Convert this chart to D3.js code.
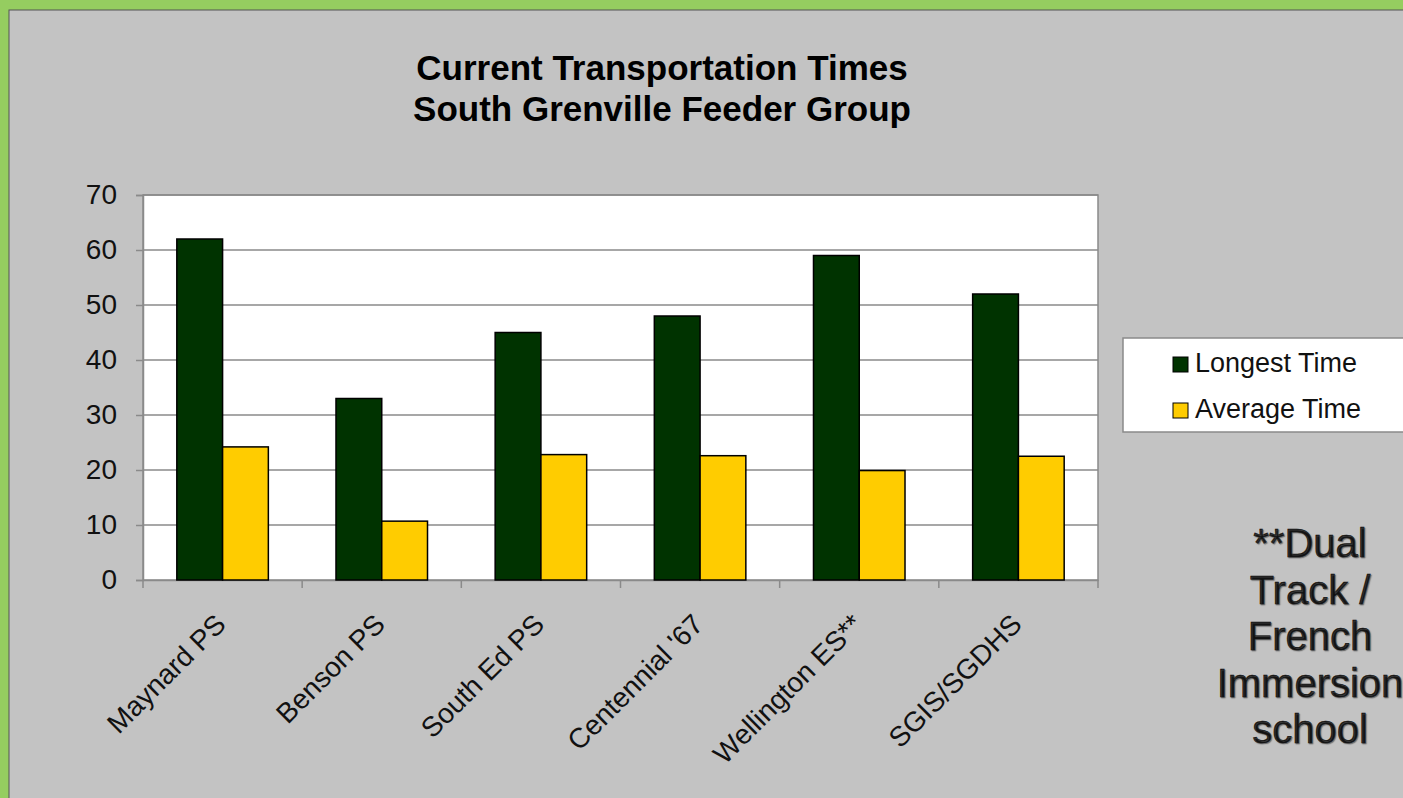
<!DOCTYPE html>
<html><head><meta charset="utf-8">
<script src="https://cdn.jsdelivr.net/npm/d3@7"></script>
<style>html,body{margin:0;padding:0;overflow:hidden;background:#c3c3c3}</style>
</head><body>
<script>
const categories = ["Maynard PS","Benson PS","South Ed PS","Centennial '67","Wellington ES**","SGIS/SGDHS"];
const seriesNames = ["Longest Time","Average Time"];
const longestTime = [62, 33, 45, 48, 59, 52];
const averageTime = [24.2, 10.7, 22.8, 22.6, 19.9, 22.5];
const yTicks = [0,10,20,30,40,50,60,70];
const titleLines = ["Current Transportation Times","South Grenville Feeder Group"];
const noteLines = ["**Dual","Track /","French","Immersion","school"];
const colors = ["#003300","#ffcc00"];

const W = 1403, H = 798;
const FONT = "'Liberation Sans', Arial, sans-serif";
const svg = d3.select("body").append("svg").attr("width",W).attr("height",H)
  .style("font-family",FONT);

// background + green frame
svg.append("rect").attr("width",W).attr("height",H).attr("fill","#95cd60");
svg.append("rect").attr("x",9).attr("y",10).attr("width",W).attr("height",H)
  .attr("fill","#c3c3c3").attr("stroke","#555").attr("stroke-width",1);

// title
svg.append("g").selectAll("text").data(titleLines).join("text")
  .attr("x",662).attr("y",(d,i)=>80+i*41).attr("text-anchor","middle")
  .attr("font-weight","bold").attr("font-size",35).attr("fill","#000").text(d=>d);

const plot = {l:143, r:1098, t:195, b:580};
const x = d3.scaleBand().domain(categories).range([plot.l, plot.r]);
const x1 = d3.scaleBand().domain(seriesNames).range([x.bandwidth()*0.2125, x.bandwidth()*0.7875]);
const y = d3.scaleLinear().domain([0,70]).range([plot.b, plot.t]);

// plot area
svg.append("rect").attr("x",plot.l).attr("y",plot.t).attr("width",plot.r-plot.l).attr("height",plot.b-plot.t)
  .attr("fill","#fff").attr("stroke","#8a8a8a").attr("stroke-width",1.5);

// gridlines
svg.append("g").selectAll("line").data(yTicks.filter(d=>d>0)).join("line")
  .attr("x1",plot.l).attr("x2",plot.r).attr("y1",d=>y(d)).attr("y2",d=>y(d))
  .attr("stroke","#8a8a8a").attr("stroke-width",1.5);

// y axis
const yAxis = svg.append("g").attr("transform",`translate(${plot.l},0)`)
  .call(d3.axisLeft(y).tickValues(yTicks).tickSize(7).tickPadding(19));
yAxis.select(".domain").attr("stroke","#8a8a8a").attr("stroke-width",1.5);
yAxis.selectAll(".tick line").attr("stroke","#8a8a8a").attr("stroke-width",1.5);
yAxis.selectAll("text").attr("font-size",28).attr("fill","#111").attr("font-family",FONT);

// x axis
const xAxis = svg.append("g").attr("transform",`translate(0,${plot.b})`)
  .call(d3.axisBottom(x).tickSize(0).tickFormat(""));
xAxis.select(".domain").attr("stroke","#8a8a8a").attr("stroke-width",1.5);
const bounds = d3.range(categories.length+1).map(i=>plot.l + i*x.step());
svg.append("g").selectAll("line").data(bounds).join("line")
  .attr("x1",d=>d).attr("x2",d=>d).attr("y1",plot.b).attr("y2",plot.b+8)
  .attr("stroke","#8a8a8a").attr("stroke-width",1.5);
svg.append("g").selectAll("text").data(categories).join("text")
  .attr("transform",d=>`translate(${x(d)+x.bandwidth()/2+5},${plot.b+46}) rotate(-45)`)
  .attr("text-anchor","end").attr("font-size",28).attr("fill","#111").text(d=>d);

// bars
const data = categories.map((c,i)=>({c, vals:[longestTime[i], averageTime[i]]}));
const g = svg.append("g").selectAll("g").data(data).join("g").attr("transform",d=>`translate(${x(d.c)},0)`);
g.selectAll("rect").data(d=>d.vals.map((v,j)=>({s:seriesNames[j], v, j}))).join("rect")
  .attr("x",d=>x1(d.s)).attr("width",x1.bandwidth())
  .attr("y",d=>y(d.v)).attr("height",d=>y(0)-y(d.v))
  .attr("fill",d=>colors[d.j]).attr("stroke","#000").attr("stroke-width",1.5);

// legend
svg.append("rect").attr("x",1123).attr("y",338).attr("width",300).attr("height",94)
  .attr("fill","#fff").attr("stroke","#8a8a8a").attr("stroke-width",1.5);
const lg = svg.append("g").selectAll("g").data(seriesNames).join("g")
  .attr("transform",(d,i)=>`translate(1173,${357+i*46})`);
lg.append("rect").attr("width",15).attr("height",15).attr("fill",(d,i)=>colors[i]).attr("stroke","#000").attr("stroke-width",1);
lg.append("text").attr("x",22).attr("y",15).attr("font-size",27).attr("fill","#111").text(d=>d);

// note
svg.append("g").selectAll("text").data(noteLines).join("text")
  .attr("x",1310).attr("y",(d,i)=>557+i*46.5).attr("text-anchor","middle")
  .attr("font-size",40).attr("fill","#111").attr("stroke","#111").attr("stroke-width",0.5)
  .style("text-shadow","1px 1px 1px #666").text(d=>d);
</script>
</body></html>
